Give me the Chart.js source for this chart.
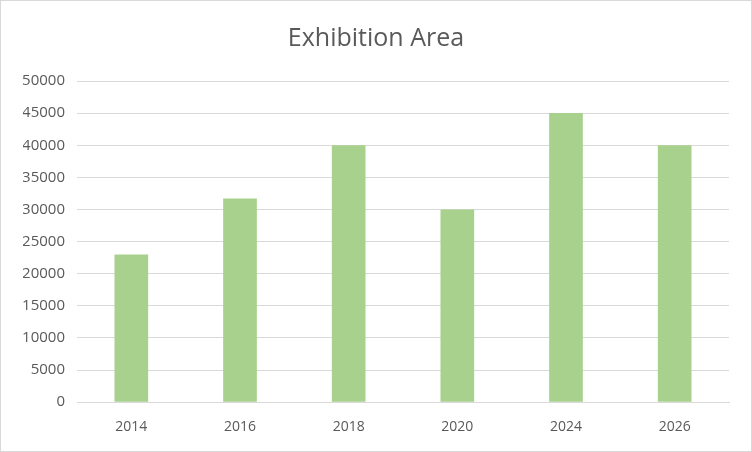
<!DOCTYPE html>
<html>
<head>
<meta charset="utf-8">
<script src="https://cdn.jsdelivr.net/npm/chart.js@4"></script>
<style>
  body { margin: 0; background: #fff; }
  #wrap { position: relative; width: 750px; height: 450px; border: 1px solid #d9d9d9; }
</style>
</head>
<body>
<div id="wrap"><canvas id="grafico"></canvas></div>
<script>
// datos del grafico
const anios = ['2014', '2016', '2018', '2020', '2024', '2026'];
const areas = [23000, 31700, 40000, 30000, 45000, 40000];
const tituloGrafico = 'Exhibition Area';

const ctx = document.getElementById('grafico');
new Chart(ctx, {
  type: 'bar',
  data: {
    labels: anios,
    datasets: [{
      label: tituloGrafico,
      data: areas,
      backgroundColor: '#a9d18e',
      borderWidth: 0,
      barPercentage: 0.31,
      categoryPercentage: 1
    }]
  },
  options: {
    responsive: true,
    maintainAspectRatio: false,
    animation: false,
    layout: { padding: { left: 22, right: 22, top: 12, bottom: 8 } },
    plugins: {
      legend: { display: false },
      tooltip: { enabled: false },
      title: {
        display: true,
        text: tituloGrafico,
        color: '#595959',
        font: { family: 'Open Sans', size: 25, weight: 'normal' },
        padding: { top: 11, bottom: 27 }
      }
    },
    scales: {
      x: {
        grid: { display: false },
        border: { color: '#d9d9d9', width: 1 },
        ticks: { color: '#595959', font: { family: 'Open Sans', size: 14 }, padding: 8 }
      },
      y: {
        min: 0,
        max: 50000,
        afterFit: function (scale) { scale.width = 54; },
        grid: { color: '#d9d9d9', lineWidth: 1, drawTicks: false },
        border: { display: false },
        ticks: {
          stepSize: 5000,
          color: '#595959',
          font: { family: 'Open Sans', size: 15 },
          padding: 12,
          callback: function (valor) { return String(valor); }
        }
      }
    }
  }
});
</script>
</body>
</html>
